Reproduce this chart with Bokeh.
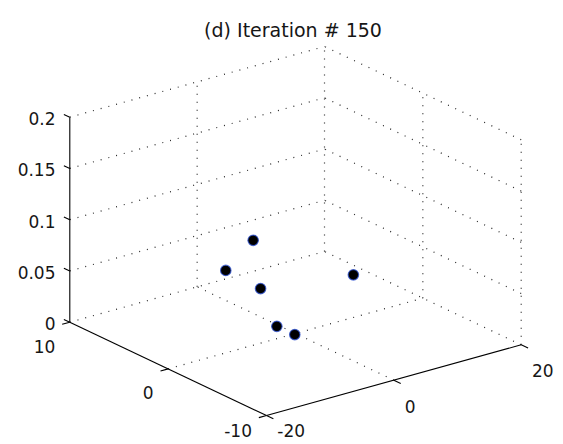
import numpy as np
from bokeh.plotting import figure
from bokeh.models import Range1d
from bokeh.core.properties import value
from bokeh.embed import file_html
from bokeh.resources import INLINE

# ---------------- data ----------------
title = "(d) Iteration # 150"
pts_x = [2.0, -4.0, 1.0, 6.0, -1.0, -0.5]
pts_y = [5.6, 4.5, 4.2, -2.0, 1.25, -0.25]
pts_z = [0.062, 0.048, 0.023, 0.056, 0.003, 0.001]

x_ticks = [-20, 0, 20]
y_ticks = [-10, 0, 10]
z_ticks = [0, 0.05, 0.1, 0.15, 0.2]
x_labels = ["-20", "0", "20"]
y_labels = ["-10", "0", "10"]
z_labels = ["0", "0.05", "0.1", "0.15", "0.2"]

XLIM = (-20, 20)
YLIM = (-10, 10)
ZLIM = (0, 0.2)

# ---------------- view (screen layout of the 3-D box) ----------------
ORIGIN = (266.0, 415.0)        # screen position of (xmin, ymin, zmin)
X_END = (520.7, 344.3)         # screen position of (xmax, ymin, zmin)
Y_END = (69.3, 321.7)          # screen position of (xmin, ymax, zmin)
Z_PIX = 205.0                  # screen height of the z range

ex = np.array([(X_END[0] - ORIGIN[0]) / (XLIM[1] - XLIM[0]),
               (X_END[1] - ORIGIN[1]) / (XLIM[1] - XLIM[0])])
ey = np.array([(Y_END[0] - ORIGIN[0]) / (YLIM[1] - YLIM[0]),
               (Y_END[1] - ORIGIN[1]) / (YLIM[1] - YLIM[0])])
ez = np.array([0.0, -Z_PIX / (ZLIM[1] - ZLIM[0])])


def proj(x, y, z):
    x = np.asarray(x, float); y = np.asarray(y, float); z = np.asarray(z, float)
    sx = ORIGIN[0] + (x - XLIM[0]) * ex[0] + (y - YLIM[0]) * ey[0] + (z - ZLIM[0]) * ez[0]
    sy = ORIGIN[1] + (x - XLIM[0]) * ex[1] + (y - YLIM[0]) * ey[1] + (z - ZLIM[0]) * ez[1]
    return sx, sy


def seg(p0, p1):
    a = proj(*p0); b = proj(*p1)
    return [float(a[0]), float(b[0])], [float(a[1]), float(b[1])]


W, H = 563, 444
p = figure(width=W, height=H, x_range=Range1d(0, W), y_range=Range1d(H, 0),
           output_backend="svg", toolbar_location=None, min_border=0,
           x_axis_location=None, y_axis_location=None)
p.xgrid.visible = False
p.ygrid.visible = False
p.outline_line_color = None
p.background_fill_color = "white"
p.border_fill_color = "white"

x0, x1 = XLIM; y0, y1 = YLIM; z0, z1 = ZLIM

# ---------------- dotted grid on the three back planes ----------------
gx, gy = [], []
def add(p0, p1):
    a, b = seg(p0, p1); gx.append(a); gy.append(b)

for xv in x_ticks[1:]:                 # floor, constant x
    add((xv, y0, z0), (xv, y1, z0))
for yv in y_ticks[1:]:                 # floor, constant y
    add((x0, yv, z0), (x1, yv, z0))
for xv in x_ticks[1:]:                 # back wall y = ymax, verticals
    add((xv, y1, z0), (xv, y1, z1))
for zv in z_ticks[1:]:                 # back wall y = ymax, horizontals
    add((x0, y1, zv), (x1, y1, zv))
for yv in y_ticks[:-1]:                # side wall x = xmax, verticals
    add((x1, yv, z0), (x1, yv, z1))
for zv in z_ticks[1:]:                 # side wall x = xmax, horizontals
    add((x1, y0, zv), (x1, y1, zv))

p.multi_line(gx, gy, line_color="#262626", line_width=1.2, line_dash="1 7")

# ---------------- solid axes ----------------
ax, ay = [], []
for a, b in [((x0, y0, z0), (x1, y0, z0)),
             ((x0, y0, z0), (x0, y1, z0)),
             ((x0, y1, z0), (x0, y1, z1))]:
    s = seg(a, b); ax.append(s[0]); ay.append(s[1])

# tick marks (pointing outward)
for xv in x_ticks:
    s = seg((xv, y0, z0), (xv, y0 - 0.7, z0)); ax.append(s[0]); ay.append(s[1])
for yv in y_ticks:
    s = seg((x0, yv, z0), (x0 - 1.2, yv, z0)); ax.append(s[0]); ay.append(s[1])
for zv in z_ticks:
    s = seg((x0, y1, zv), (x0, y1 + 0.6, zv)); ax.append(s[0]); ay.append(s[1])

p.multi_line(ax, ay, line_color="black", line_width=1.1)

# ---------------- tick labels ----------------
FONT = value("DejaVu Sans")
FS = "17px"
TXT = "#161616"
CORNER_DROP = 15   # labels at the shared front corner (kept inside the page)

tx, ty = proj(x_ticks, [y0] * len(x_ticks), [z0] * len(x_ticks))
p.text(x=list(tx + 10.8),
       y=[float(v) + (CORNER_DROP if xv == x0 else 26) for v, xv in zip(ty, x_ticks)],
       text=x_labels, text_align="left", text_baseline="alphabetic",
       text_font=FONT, text_font_size=FS, text_color=TXT)

tx, ty = proj([x0] * len(y_ticks), y_ticks, [z0] * len(y_ticks))
p.text(x=list(tx - 14.5),
       y=[float(v) + (CORNER_DROP if yv == y0 else 24) for v, yv in zip(ty, y_ticks)],
       text=y_labels, text_align="right", text_baseline="alphabetic",
       text_font=FONT, text_font_size=FS, text_color=TXT)

tx, ty = proj([x0] * len(z_ticks), [y1] * len(z_ticks), z_ticks)
p.text(x=list(tx - 14.3), y=list(ty + 1.5),
       text=z_labels, text_align="right", text_baseline="alphabetic",
       text_font=FONT, text_font_size=FS, text_color=TXT)

# ---------------- title ----------------
p.text(x=[292.5], y=[29.3], text=[title], text_align="center",
       text_baseline="alphabetic", text_font=FONT, text_font_size="19px",
       text_color=TXT)

# ---------------- data points ----------------
sx, sy = proj(pts_x, pts_y, pts_z)
p.scatter(x=list(sx), y=list(sy), size=10.5, marker="circle",
          fill_color="black", line_color="#2b4fd0", line_alpha=0.75,
          line_width=1.2)

open("out.html", "w").write(file_html(p, INLINE))
